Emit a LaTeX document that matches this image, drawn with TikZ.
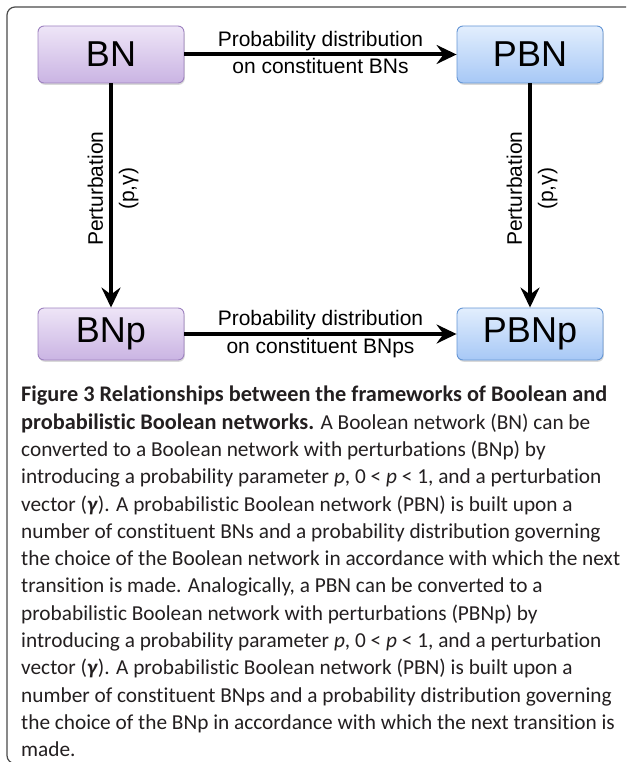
\documentclass[tikz,border=0pt]{standalone}
\usepackage{fontspec}
\setmainfont[RawFeature=-liga]{Carlito}
\newfontfamily\diagfont{Liberation Sans}
\usetikzlibrary{arrows.meta,shadows}

\definecolor{bntop}{HTML}{EEE5F7}
\definecolor{bnbot}{HTML}{CAB4E3}
\definecolor{bnline}{HTML}{9E82C0}
\definecolor{pbntop}{HTML}{E2EEFD}
\definecolor{pbnbot}{HTML}{A7C8F6}
\definecolor{pbnline}{HTML}{6596D5}
\definecolor{framegray}{HTML}{4A4A4A}
\definecolor{captext}{HTML}{231F20}

\newcommand{\capbold}[1]{{\fontsize{22.3}{27.3}\selectfont\bfseries #1}}

\tikzset{
  net/.style={draw, rounded corners=6pt, line width=0.9pt, minimum width=146pt, inner sep=0pt,
    font=\diagfont\fontsize{36}{36}\selectfont,
    drop shadow={opacity=0.3, shadow xshift=0.8pt, shadow yshift=-1.8pt}},
  boolnet/.style={net, draw=bnline, top color=bntop, bottom color=bnbot},
  probnet/.style={net, draw=pbnline, top color=pbntop, bottom color=pbnbot},
  link/.style={line width=4pt, -{Stealth[length=20pt,width=19pt,inset=7pt]}},
  lbl/.style={font=\diagfont\fontsize{21}{23}\selectfont, inner sep=2pt},
  vlbl/.style={lbl, inner sep=6pt, pos=0.47, rotate=90}
}

\begin{document}
\begin{tikzpicture}[x=1pt,y=-1pt]
  \useasboundingbox (0,0) rectangle (626,762);
  \clip (0,0) rectangle (626,762);
  \draw[framegray, line width=1.2pt, rounded corners=8pt] (660,7) -- (7,7) -- (7,763.5) -- (660,763.5);

  \node[boolnet, minimum height=57pt] (BN) at (111,54.5) {BN};
  \node[probnet, minimum height=57pt] (PBN) at (530,54.5) {PBN};
  \node[boolnet, minimum height=52pt] (BNp) at (111,334) {BNp};
  \node[probnet, minimum height=52pt] (PBNp) at (530,334) {PBNp};

  \draw[link] (BN) to node[lbl, above] {Probability distribution} node[lbl, below] {on constituent BNs} (PBN);
  \draw[link] (BNp) to node[lbl, above] {Probability distribution} node[lbl, below] {on constituent BNps} (PBNp);
  \draw[link] (BN) to node[vlbl, above] {Perturbation} node[vlbl, below] {(p,γ)} (BNp);
  \draw[link] (PBN) to node[vlbl, above] {Perturbation} node[vlbl, below] {(p,γ)} (PBNp);

  \node[anchor=north west, align=left, text=captext, inner sep=0pt,
    font=\fontsize{21.3}{27.3}\selectfont] (caption) at (21,386) {%
    \capbold{Figure 3 Relationships between the frameworks of Boolean and}\\
    \capbold{probabilistic Boolean networks.} A Boolean network (BN) can be\\
    converted to a Boolean network with perturbations (BNp) by\\
    introducing a probability parameter \textit{p}, 0 < \textit{p} < 1, and a perturbation\\
    vector (\textbf{\textit{γ}}). A probabilistic Boolean network (PBN) is built upon a\\
    number of constituent BNs and a probability distribution governing\\
    the choice of the Boolean network in accordance with which the next\\
    transition is made. Analogically, a PBN can be converted to a\\
    probabilistic Boolean network with perturbations (PBNp) by\\
    introducing a probability parameter \textit{p}, 0 < \textit{p} < 1, and a perturbation\\
    vector (\textbf{\textit{γ}}). A probabilistic Boolean network (PBN) is built upon a\\
    number of constituent BNps and a probability distribution governing\\
    the choice of the BNp in accordance with which the next transition is\\
    made.};
\end{tikzpicture}
\end{document}
